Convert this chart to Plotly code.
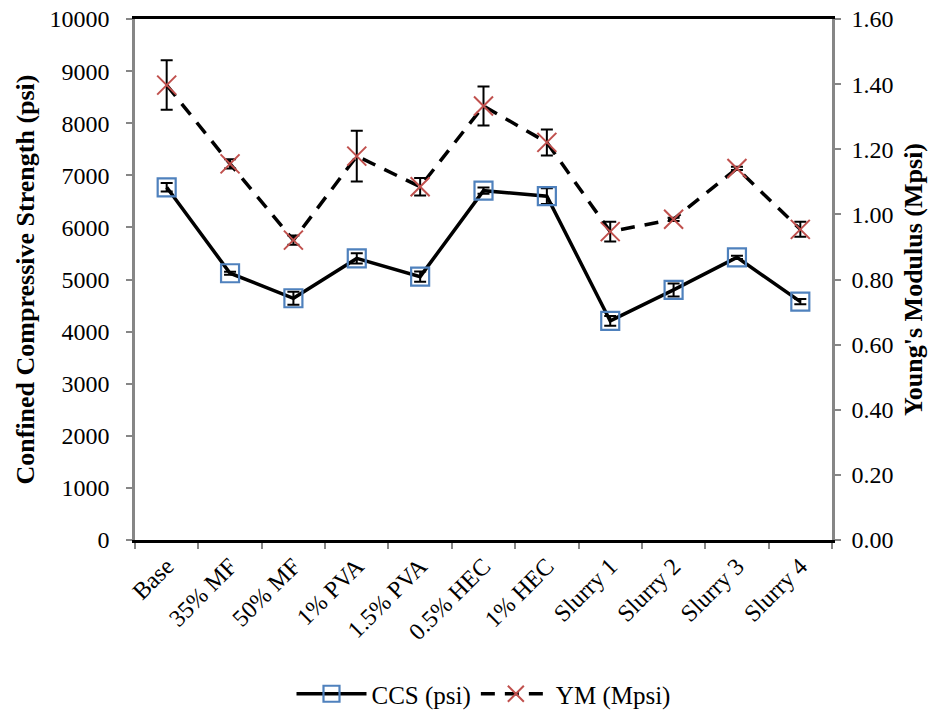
import plotly.graph_objects as go

# Mix designs along the x axis
categories = ["Base", "35% MF", "50% MF", "1% PVA", "1.5% PVA", "0.5% HEC",
              "1% HEC", "Slurry 1", "Slurry 2", "Slurry 3", "Slurry 4"]

# Confined compressive strength (psi) and its spread
ccs_values = [6770, 5120, 4640, 5405, 5055, 6705, 6600, 4205, 4800, 5425, 4575]
ccs_errors = [80, 30, 125, 100, 100, 60, 150, 95, 125, 30, 50]

# Young's modulus (Mpsi) and its spread
ym_values = [1.397, 1.155, 0.921, 1.179, 1.085, 1.333, 1.221, 0.947, 0.985, 1.141, 0.954]
ym_errors = [0.076, 0.014, 0.014, 0.078, 0.027, 0.060, 0.040, 0.030, 0.005, 0.005, 0.023]

FONT = "Times New Roman, Liberation Serif, serif"
AXIS_GRAY = "#868686"
NBSP = "\u00a0"

fig = go.Figure()

fig.add_trace(go.Scatter(
    x=categories, y=ccs_values, name="CCS (psi)", mode="lines+markers",
    line=dict(color="black", width=3.5),
    marker=dict(symbol="square-open", size=18, color="#4F81BD", line=dict(width=2.2)),
    error_y=dict(type="data", array=ccs_errors, visible=True,
                 color="black", thickness=2, width=6),
))

fig.add_trace(go.Scatter(
    x=categories, y=ym_values, name="YM (Mpsi)", mode="lines+markers", yaxis="y2",
    line=dict(color="black", width=3.5, dash="14px,10px"),
    marker=dict(symbol="x-thin-open", size=19, color="#C0504D", line=dict(width=2, color="#C0504D")),
    error_y=dict(type="data", array=ym_errors, visible=True,
                 color="black", thickness=2, width=6),
))

fig.update_layout(
    width=943, height=717,
    margin=dict(l=135, r=111, t=19, b=177, autoexpand=False),
    paper_bgcolor="white", plot_bgcolor="white",
    font=dict(family=FONT, size=24, color="black"),
    showlegend=True,
    legend=dict(orientation="h", x=0.5, xanchor="center", yref="container",
                y=0.0, yanchor="bottom",
                font=dict(family=FONT, size=25), itemwidth=70, traceorder="normal"),
    xaxis=dict(
        type="category", range=[-0.5, 10.5], tickangle=-45, automargin=False,
        tickson="boundaries", ticks="outside", ticklen=6, tickcolor=AXIS_GRAY,
        tickwidth=1.5, showgrid=False, zeroline=False,
        showline=True, linecolor="black", linewidth=2.5, mirror=True,
        tickfont=dict(family=FONT, size=24),
    ),
    yaxis=dict(
        range=[0, 10000], dtick=1000, tickformat="d", ticks="outside", ticklen=6,
        automargin=False, ticksuffix=NBSP * 2,
        tickcolor=AXIS_GRAY, tickwidth=1.5, showgrid=False, zeroline=False,
        showline=True, linecolor=AXIS_GRAY, linewidth=2.5,
        tickfont=dict(family=FONT, size=24),
        title=dict(text="<b>Confined Compressive Strength (psi)</b>",
                   font=dict(family=FONT, size=26), standoff=8),
    ),
    yaxis2=dict(
        range=[0, 1.6], dtick=0.2, tickformat=".2f", overlaying="y", side="right",
        automargin=False, tickprefix=NBSP,
        ticks="outside", ticklen=6, tickcolor=AXIS_GRAY, tickwidth=1.5,
        showgrid=False, zeroline=False,
        showline=True, linecolor=AXIS_GRAY, linewidth=2.5,
        tickfont=dict(family=FONT, size=24),
        title=dict(text="<b>Young's Modulus (Mpsi)</b>",
                   font=dict(family=FONT, size=26), standoff=12),
    ),
)

fig.write_html("out.html")
